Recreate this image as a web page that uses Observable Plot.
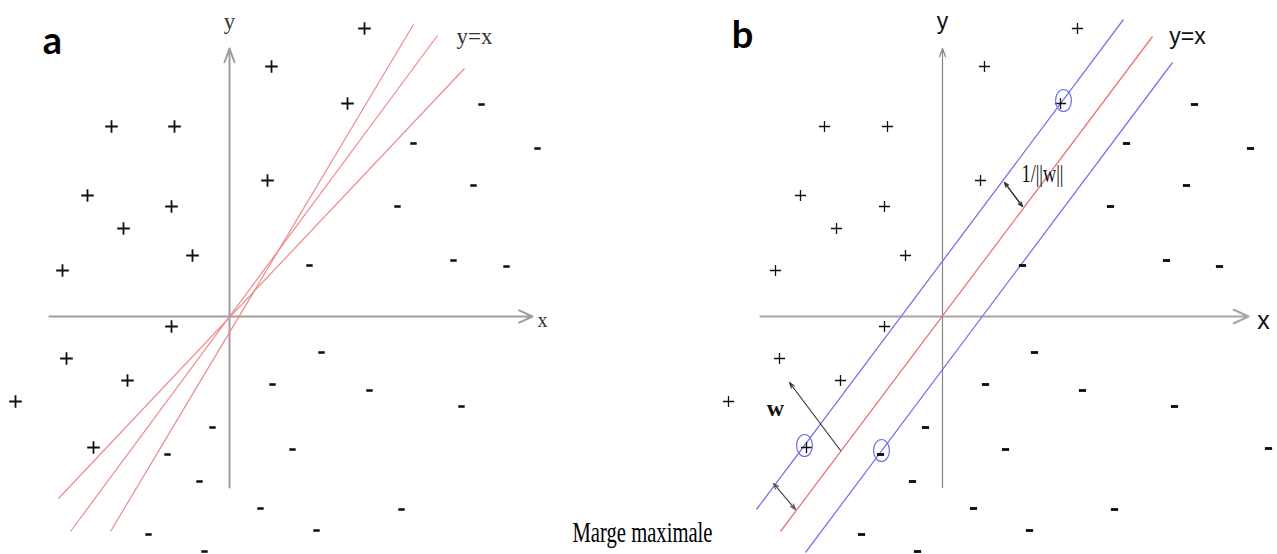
<!DOCTYPE html>
<html>
<head>
<meta charset="utf-8">
<script src="https://cdn.jsdelivr.net/npm/d3@7"></script>
<script src="https://cdn.jsdelivr.net/npm/@observablehq/plot@0.6"></script>
<style>
  html, body { margin: 0; padding: 0; background: #fff; }
  #wrap { position: relative; width: 1277px; height: 554px; overflow: hidden; background: #fff; }
  #pa { position: absolute; left: 0; top: 0; width: 549px; height: 554px; overflow: hidden; }
  #pb { position: absolute; left: 560px; top: 0; width: 717px; height: 554px; overflow: hidden; }
</style>
</head>
<body>
<div id="wrap"><div id="pa"></div><div id="pb"></div></div>
<script>
// ---- data (coordinates relative to the origin of each panel, y upward) ----
const plusX  = [135, 42, 118, -118, -55, 38, -142, -58, -106, -37, -167, -58, -163, -102, -214, -136];
const plusY  = [288, 250, 213, 190, 190, 136, 121, 110, 88, 61, 46, -10, -42, -64, -85, -131];
const minusX = [252, 184, 308, 244, 168, 80, 224, 277, 92, 43, 140, 232, -17, -62, 63, -30, 31, 172, 87, -81, -25, 326];
const minusY = [212, 173, 168, 131, 110, 51, 56, 50, -36, -68, -74, -90, -111, -138, -133, -165, -192, -193, -214, -218, -235, -132];

// support vectors (circled points, panel b)
const supportX = [121, -138, -61];
const supportY = [216, -129, -134];

// candidate separators (panel a)
const candX1 = [-171, -159, -119];
const candY1 = [-182, -215, -215];
const candX2 = [235, 208, 184];
const candY2 = [248, 281, 292];

// optimal hyperplane and margins (panel b)
const hyperX = [-162, 210];
const hyperY = [-215, 280];
const marginX1 = [-186, -137];
const marginY1 = [-193, -236];
const marginX2 = [181, 230];
const marginY2 = [297, 254];

// axes extents
const axisXA = [-180, 303];
const axisXB = [-182, 306];
const axisYExt = [-171, 268];

// text labels
const panelLetters = ["a", "b"];
const axisNames = ["x", "y"];
const lineLabel = "y=x";
const normLabel = "1/||w||";
const wLabel = "w";
const caption = "Marge maximale";

// ---- helpers ----
const plusSymbol = {draw(ctx, size) {
  const r = Math.sqrt(size / Math.PI);
  ctx.moveTo(-r, 0); ctx.lineTo(r, 0);
  ctx.moveTo(0, -r); ctx.lineTo(0, r);
}};
const minusSymbol = {draw(ctx, size) {
  const r = Math.sqrt(size / Math.PI);
  ctx.rect(-r, -r * 0.4, 2 * r, r * 0.8);
}};
const ellipseSymbol = {draw(ctx, size) {
  const ry = Math.sqrt(size / Math.PI), rx = ry * 0.72, k = 0.5523;
  ctx.moveTo(rx, 0);
  ctx.bezierCurveTo(rx, k * ry, k * rx, ry, 0, ry);
  ctx.bezierCurveTo(-k * rx, ry, -rx, k * ry, -rx, 0);
  ctx.bezierCurveTo(-rx, -k * ry, -k * rx, -ry, 0, -ry);
  ctx.bezierCurveTo(k * rx, -ry, rx, -k * ry, rx, 0);
  ctx.closePath();
}};

const plusData = plusX.map((x, i) => ({x, y: plusY[i]}));
const minusData = minusX.map((x, i) => ({x, y: minusY[i]}));
const supportData = supportX.map((x, i) => ({x, y: supportY[i]}));
const candData = candX1.map((x1, i) => ({x1, y1: candY1[i], x2: candX2[i], y2: candY2[i]}));
const marginData = marginX1.map((x1, i) => ({x1, y1: marginY1[i], x2: marginX2[i], y2: marginY2[i]}));
const hyperData = [{x1: hyperX[0], y1: hyperY[0], x2: hyperX[1], y2: hyperY[1]}];

const SERIF = "'Liberation Serif', 'DejaVu Serif', serif";
const SANS = "'Liberation Sans Narrow', 'Liberation Sans', Arial, sans-serif";
const LETTER = "Lato, 'Open Sans', sans-serif";

function axesMarks(xExt, stroke, sw, strokeY, swY) {
  return [
    Plot.arrow([{x1: xExt[0], y1: 0, x2: xExt[1], y2: 0}],
      {x1: "x1", y1: "y1", x2: "x2", y2: "y2", bend: 0, headLength: 11, headAngle: 50, stroke, strokeWidth: sw}),
    Plot.arrow([{x1: 0, y1: axisYExt[0], x2: 0, y2: axisYExt[1]}],
      {x1: "x1", y1: "y1", x2: "x2", y2: "y2", bend: 0, headLength: 11, headAngle: 40, stroke: strokeY, strokeWidth: swY})
  ];
}

function pointMarks(plusR, plusW, minusR) {
  return [
    Plot.dot(plusData, {x: "x", y: "y", symbol: plusSymbol, r: plusR, fill: "none", stroke: "#111", strokeWidth: plusW}),
    Plot.dot(minusData, {x: "x", y: "y", symbol: minusSymbol, r: minusR, fill: "#111", stroke: "none"})
  ];
}

// ---- panel a ----
const widthA = 549;
const plotA = Plot.plot({
  width: widthA, height: 554, margin: 0,
  x: {domain: [-229, widthA - 229], range: [0, widthA], axis: null},
  y: {domain: [-238, 316], range: [554, 0], axis: null},
  marks: [
    ...axesMarks(axisXA, "#9e9e9e", 2, "#9e9e9e", 2),
    Plot.link(candData, {x1: "x1", y1: "y1", x2: "x2", y2: "y2", stroke: "#ee8a8a", strokeWidth: 1.2}),
    ...pointMarks(6.3, 1.8, 3.2),
    Plot.text([panelLetters[0]], {x: -177, y: 275, text: d => d, fontFamily: LETTER, fontWeight: "bold", fontSize: 38, fill: "#000"}),
    Plot.text([axisNames[1]], {x: 0, y: 295, text: d => d, fontFamily: SERIF, fontSize: 23, fill: "#333"}),
    Plot.text([axisNames[0]], {x: 313, y: -4, text: d => d, fontFamily: SERIF, fontSize: 20, fill: "#333"}),
    Plot.text([lineLabel], {x: 245, y: 280, text: d => d, fontFamily: SERIF, fontSize: 23, fill: "#333"})
  ]
});
document.getElementById("pa").appendChild(plotA);

// ---- panel b ----
const leftB = 560, widthB = 717, originB = 942;
const plotB = Plot.plot({
  width: widthB, height: 554, margin: 0,
  x: {domain: [leftB - originB, leftB + widthB - originB], range: [0, widthB], axis: null},
  y: {domain: [-238, 316], range: [554, 0], axis: null},
  marks: [
    ...axesMarks(axisXB, "#a6a6a6", 2.2, "#858585", 1.2),
    Plot.link(marginData, {x1: "x1", y1: "y1", x2: "x2", y2: "y2", stroke: "#7676ee", strokeWidth: 1.3}),
    Plot.link(hyperData, {x1: "x1", y1: "y1", x2: "x2", y2: "y2", stroke: "#e97676", strokeWidth: 1.3}),
    ...pointMarks(5.6, 1.3, 3.6),
    Plot.dot(supportData, {x: "x", y: "y", symbol: ellipseSymbol, r: 11, fill: "none", stroke: "#6f6fee", strokeWidth: 1.2}),
    // 1/||w|| double arrow
    Plot.arrow([{x1: 62, y1: 134, x2: 80, y2: 110}], {x1: "x1", y1: "y1", x2: "x2", y2: "y2", bend: 0, headLength: 6, headAngle: 40, stroke: "#333", strokeWidth: 1.2}),
    Plot.arrow([{x1: 80, y1: 110, x2: 62, y2: 134}], {x1: "x1", y1: "y1", x2: "x2", y2: "y2", bend: 0, headLength: 6, headAngle: 40, stroke: "#333", strokeWidth: 1.2}),
    // w vector
    Plot.arrow([{x1: -102, y1: -134, x2: -153, y2: -66}], {x1: "x1", y1: "y1", x2: "x2", y2: "y2", bend: 0, headLength: 8, headAngle: 35, stroke: "#333", strokeWidth: 1.1}),
    // margin double arrow
    Plot.arrow([{x1: -169, y1: -167, x2: -147, y2: -193}], {x1: "x1", y1: "y1", x2: "x2", y2: "y2", bend: 0, headLength: 8, headAngle: 40, stroke: "#555", strokeWidth: 1.1}),
    Plot.arrow([{x1: -147, y1: -193, x2: -169, y2: -167}], {x1: "x1", y1: "y1", x2: "x2", y2: "y2", bend: 0, headLength: 8, headAngle: 40, stroke: "#555", strokeWidth: 1.1}),
    Plot.text([panelLetters[1]], {x: -200, y: 281, text: d => d, fontFamily: LETTER, fontWeight: "bold", fontSize: 38, fill: "#000"}),
    Plot.text([axisNames[1]], {x: 0, y: 295, text: d => d, fontFamily: SANS, fontSize: 23, fill: "#111"}),
    Plot.text([axisNames[0]], {x: 321, y: -4, text: d => d, fontFamily: SANS, fontSize: 25, fill: "#111"}),
    Plot.text([lineLabel], {x: 245, y: 280, text: d => d, fontFamily: SANS, fontSize: 23, fill: "#111"}),
    Plot.text([normLabel], {x: 100, y: 143, text: d => d, fontFamily: SERIF, fontSize: 25, fill: "#111"}),
    Plot.text([wLabel], {x: -167, y: -92, text: d => d, fontFamily: SERIF, fontWeight: "bold", fontSize: 24, fill: "#111"}),
    Plot.text([caption], {x: -300, y: -216, text: d => d, fontFamily: SERIF, fontSize: 29, fill: "#000"})
  ]
});
document.getElementById("pb").appendChild(plotB);

// squeeze the caption and 1/||w|| horizontally like the original raster
d3.select(plotB).selectAll("text").each(function() {
  const t = this.textContent;
  if (t === caption) d3.select(this).attr("textLength", 140).attr("lengthAdjust", "spacingAndGlyphs");
  if (t === normLabel) d3.select(this).attr("textLength", 42).attr("lengthAdjust", "spacingAndGlyphs");
});
</script>
</body>
</html>
